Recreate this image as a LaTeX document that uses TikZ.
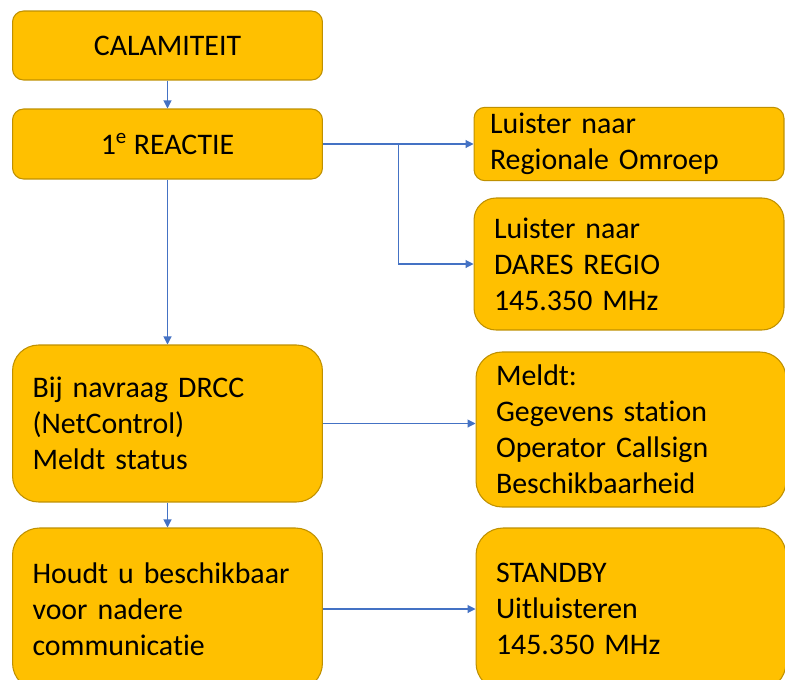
\documentclass[tikz,border=0pt]{standalone}
\usepackage{fontspec}
\setmainfont{Carlito}[Ligatures=NoCommon]
\usetikzlibrary{arrows.meta,calc}
\definecolor{oranje}{HTML}{FFC000}
\definecolor{rand}{HTML}{BF9000}
\definecolor{blauw}{HTML}{4472C4}
\begin{document}
\begin{tikzpicture}[x=0.02cm, y=-0.02cm,
    blok/.style={rectangle, draw=rand, fill=oranje, line width=0.6pt, rounded corners=0.22cm,
        font=\fontsize{17}{20.5}\selectfont, minimum width=6.2cm, align=center},
    lijst/.style={blok, align=left, text width=5.4cm, inner xsep=0.4cm},
    pijl/.style={draw=blauw, line width=0.6pt, -{Triangle[length=1.6mm,width=1.6mm]}}]
    \useasboundingbox (0,0) rectangle (785,680);
    \clip (0,0) rectangle (785,680);
    % linker kolom
    \node[blok, minimum height=1.38cm] (cal) at (167.5,45.5) {CALAMITEIT};
    \node[blok, minimum height=1.4cm] (reac) at (167.5,144) {1\textsuperscript{e} REACTIE};
    \node[lijst, minimum height=3.14cm, rounded corners=0.52cm] (drcc) at (167.5,423.5)
        {Bij navraag DRCC\\(NetControl)\\Meldt status};
    \node[lijst, minimum height=3.24cm, rounded corners=0.54cm] (houd) at (167.5,609)
        {Houdt u beschikbaar\\voor nadere\\communicatie};
    % rechter kolom
    \node[lijst, minimum height=1.4cm, inner xsep=0.32cm, text width=5.56cm] (omroep) at (629,144)
        {Luister naar\\Regionale Omroep};
    \node[lijst, minimum height=2.64cm, rounded corners=0.44cm] (dares) at (629,264)
        {Luister naar\\DARES REGIO\\145.350 MHz};
    \node[lijst, minimum height=3.1cm, rounded corners=0.52cm] (meld) at (631,429.5)
        {Meldt:\\Gegevens station\\Operator Callsign\\Beschikbaarheid};
    \node[lijst, minimum height=3.24cm, rounded corners=0.54cm] (stby) at (631,609)
        {STANDBY\\Uitluisteren\\145.350 MHz};
    % pijlen
    \coordinate (tak) at ($(reac.east)!0.5!(omroep.west)$);
    \draw[pijl] (cal) -- (reac);
    \draw[pijl] (reac) -- (drcc);
    \draw[pijl] (drcc) -- (houd);
    \draw[pijl] (reac.east) -- (omroep.west);
    \draw[pijl] (tak) |- (dares.west);
    \draw[pijl] (drcc.east) -- (drcc.east -| meld.west);
    \draw[pijl] (houd.east) -- (houd.east -| stby.west);
\end{tikzpicture}
\end{document}
